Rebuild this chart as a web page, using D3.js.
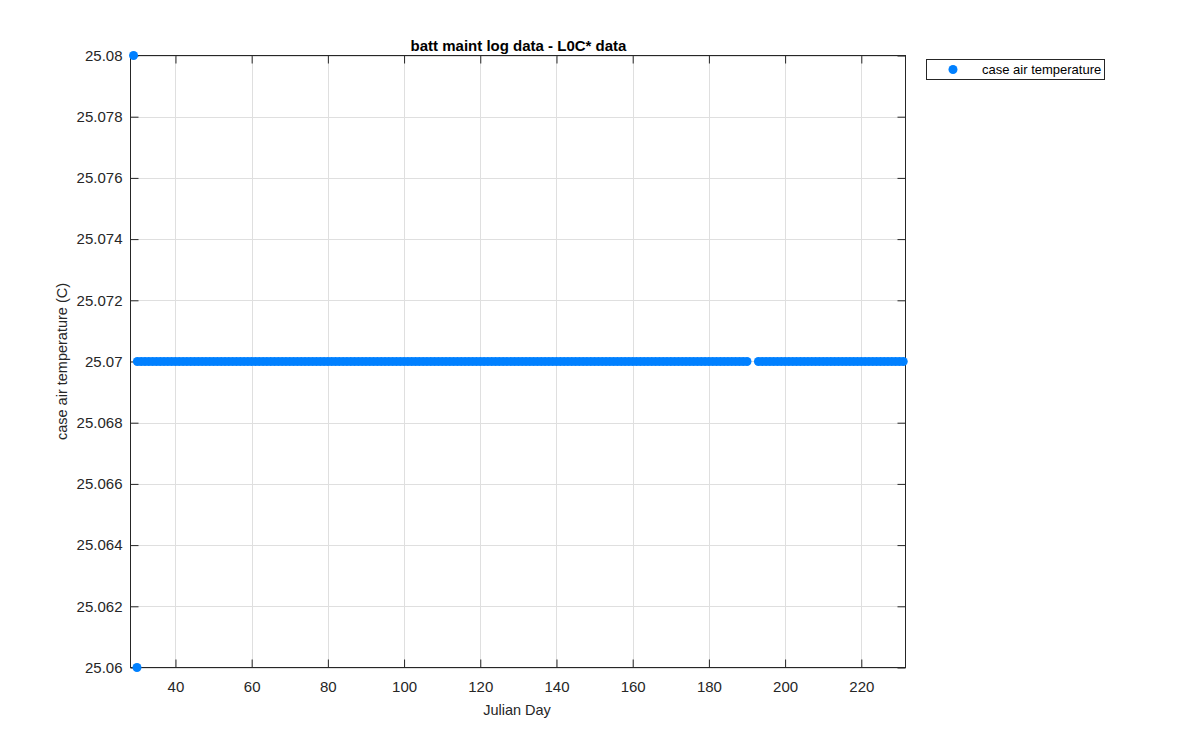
<!DOCTYPE html>
<html><head><meta charset="utf-8">
<script src="https://cdn.jsdelivr.net/npm/d3@7"></script>
<style>body{margin:0;background:#fff;} text{font-family:"Liberation Sans",Arial,sans-serif;}</style>
</head><body>
<svg id="c" width="1200" height="750"></svg>
<script>
// ---- data ----
const title = "batt maint log data - L0C* data";
const xLabel = "Julian Day";
const yLabel = "case air temperature (C)";
const seriesName = "case air temperature";
const xTicks = [40, 60, 80, 100, 120, 140, 160, 180, 200, 220];
const yTicks = [25.06, 25.062, 25.064, 25.066, 25.068, 25.07, 25.072, 25.074, 25.076, 25.078, 25.08];
const xDomain = [28.2, 231.6];
const yDomain = [25.06, 25.08];
// outlier readings
const outlierDays = [29.0, 29.9];
const outlierTemps = [25.08, 25.06];
// steady readings (daily)
const steadyDays = [30,31,32,33,34,35,36,37,38,39,40,41,42,43,44,45,46,47,48,49,50,51,52,53,54,55,56,57,58,59,60,61,62,63,64,65,66,67,68,69,70,71,72,73,74,75,76,77,78,79,80,81,82,83,84,85,86,87,88,89,90,91,92,93,94,95,96,97,98,99,100,101,102,103,104,105,106,107,108,109,110,111,112,113,114,115,116,117,118,119,120,121,122,123,124,125,126,127,128,129,130,131,132,133,134,135,136,137,138,139,140,141,142,143,144,145,146,147,148,149,150,151,152,153,154,155,156,157,158,159,160,161,162,163,164,165,166,167,168,169,170,171,172,173,174,175,176,177,178,179,180,181,182,183,184,185,186,187,188,189,190,193,194,195,196,197,198,199,200,201,202,203,204,205,206,207,208,209,210,211,212,213,214,215,216,217,218,219,220,221,222,223,224,225,226,227,228,229,230,231];
const steadyTemps = [25.07,25.07,25.07,25.07,25.07,25.07,25.07,25.07,25.07,25.07,25.07,25.07,25.07,25.07,25.07,25.07,25.07,25.07,25.07,25.07,25.07,25.07,25.07,25.07,25.07,25.07,25.07,25.07,25.07,25.07,25.07,25.07,25.07,25.07,25.07,25.07,25.07,25.07,25.07,25.07,25.07,25.07,25.07,25.07,25.07,25.07,25.07,25.07,25.07,25.07,25.07,25.07,25.07,25.07,25.07,25.07,25.07,25.07,25.07,25.07,25.07,25.07,25.07,25.07,25.07,25.07,25.07,25.07,25.07,25.07,25.07,25.07,25.07,25.07,25.07,25.07,25.07,25.07,25.07,25.07,25.07,25.07,25.07,25.07,25.07,25.07,25.07,25.07,25.07,25.07,25.07,25.07,25.07,25.07,25.07,25.07,25.07,25.07,25.07,25.07,25.07,25.07,25.07,25.07,25.07,25.07,25.07,25.07,25.07,25.07,25.07,25.07,25.07,25.07,25.07,25.07,25.07,25.07,25.07,25.07,25.07,25.07,25.07,25.07,25.07,25.07,25.07,25.07,25.07,25.07,25.07,25.07,25.07,25.07,25.07,25.07,25.07,25.07,25.07,25.07,25.07,25.07,25.07,25.07,25.07,25.07,25.07,25.07,25.07,25.07,25.07,25.07,25.07,25.07,25.07,25.07,25.07,25.07,25.07,25.07,25.07,25.07,25.07,25.07,25.07,25.07,25.07,25.07,25.07,25.07,25.07,25.07,25.07,25.07,25.07,25.07,25.07,25.07,25.07,25.07,25.07,25.07,25.07,25.07,25.07,25.07,25.07,25.07,25.07,25.07,25.07,25.07,25.07,25.07,25.07,25.07,25.07,25.07,25.07,25.07];

// ---- layout ----
const L = 130.5, R = 905.5, T = 55.5, B = 667.5;
const svg = d3.select("#c");
const x = d3.scaleLinear().domain(xDomain).range([L, R]);
const y = d3.scaleLinear().domain(yDomain).range([B, T]);
const axisCol = "#262626", gridCol = "#dfdfdf", dotCol = "#0080ff";

// grid
svg.append("g").selectAll("line").data(xTicks).join("line")
  .attr("x1", d => Math.round(x(d)) + 0.5).attr("x2", d => Math.round(x(d)) + 0.5)
  .attr("y1", T).attr("y2", B).attr("stroke", gridCol).attr("stroke-width", 1);
svg.append("g").selectAll("line").data(yTicks).join("line")
  .attr("y1", d => Math.round(y(d)) + 0.5).attr("y2", d => Math.round(y(d)) + 0.5)
  .attr("x1", L).attr("x2", R).attr("stroke", gridCol).attr("stroke-width", 1);

// axes
const tl = 8;
const fmtY = d => d3.format(".3f")(d).replace(/0+$/, "").replace(/\.$/, "");
const gx = svg.append("g").attr("transform", `translate(0,${B})`)
  .call(d3.axisBottom(x).tickValues(xTicks).tickSize(-tl).tickPadding(14).tickFormat(d3.format("d")));
const gxt = svg.append("g").attr("transform", `translate(0,${T})`)
  .call(d3.axisTop(x).tickValues(xTicks).tickSize(-tl).tickFormat(""));
const gy = svg.append("g").attr("transform", `translate(${L},0)`)
  .call(d3.axisLeft(y).tickValues(yTicks).tickSize(-tl).tickPadding(8).tickFormat(fmtY));
const gyr = svg.append("g").attr("transform", `translate(${R},0)`)
  .call(d3.axisRight(y).tickValues(yTicks).tickSize(-tl).tickFormat(""));
[gx, gxt, gy, gyr].forEach(g => {
  g.select(".domain").remove();
  g.selectAll(".tick line").attr("stroke", axisCol);
  g.selectAll(".tick text").attr("fill", axisCol).style("font-size", "15px")
    .style("font-family", "'Liberation Sans', Arial, sans-serif");
});
svg.append("rect").attr("x", L).attr("y", T).attr("width", R - L).attr("height", B - T)
  .attr("fill", "none").attr("stroke", axisCol).attr("stroke-width", 1);

// points
svg.append("g").selectAll("circle").data(steadyDays.map((d, i) => [d, steadyTemps[i]])).join("circle")
  .attr("cx", d => x(d[0])).attr("cy", d => y(d[1])).attr("r", 4.5).attr("fill", dotCol);
svg.append("g").selectAll("circle").data(outlierDays.map((d, i) => [d, outlierTemps[i]])).join("circle")
  .attr("cx", d => x(d[0])).attr("cy", d => y(d[1])).attr("r", 4.5).attr("fill", dotCol);

// labels
svg.append("text").attr("x", 518.5).attr("y", 51).attr("text-anchor", "middle")
  .style("font-size", "15px").style("font-weight", "bold").attr("fill", "#000").text(title);
svg.append("text").attr("x", 517).attr("y", 715).attr("text-anchor", "middle")
  .style("font-size", "14.5px").attr("fill", axisCol).text(xLabel);
svg.append("text").attr("transform", `translate(67,${(T + B) / 2}) rotate(-90)`).attr("text-anchor", "middle")
  .style("font-size", "14.5px").attr("fill", axisCol).text(yLabel);

// legend
svg.append("rect").attr("x", 926.5).attr("y", 59.5).attr("width", 178).attr("height", 20)
  .attr("fill", "#fff").attr("stroke", axisCol).attr("stroke-width", 1);
svg.append("circle").attr("cx", 953).attr("cy", 69.5).attr("r", 4.5).attr("fill", dotCol);
svg.append("text").attr("x", 982).attr("y", 74).style("font-size", "13px").attr("fill", "#000").text(seriesName);
</script>
</body></html>
